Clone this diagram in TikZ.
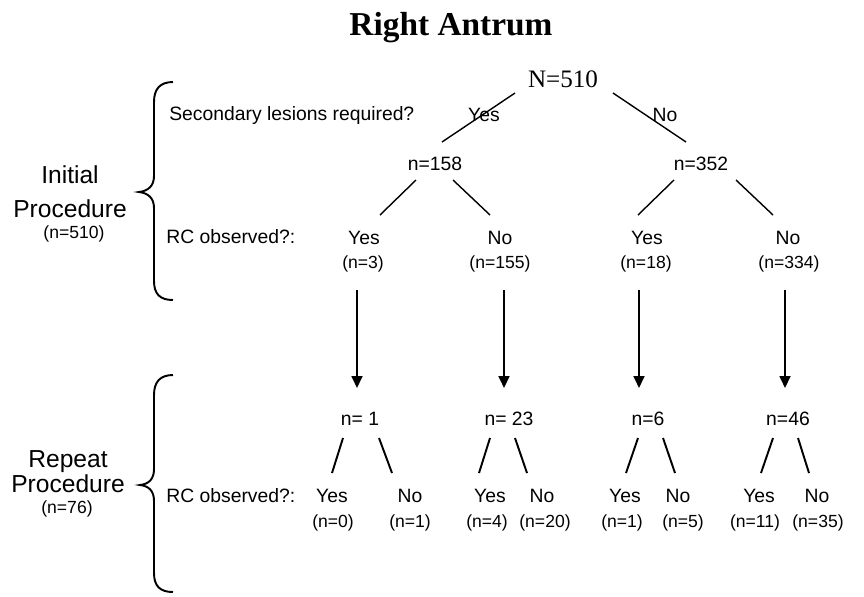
\documentclass[tikz,border=0pt]{standalone}
\usepackage{fontspec}
\setmainfont{Liberation Sans}
\newfontfamily\timesfont{Liberation Serif}
\usepackage{tikz}
\usetikzlibrary{arrows.meta, calc, positioning}

\tikzset{
	lbl/.style={anchor=base, inner sep=0pt, font=\fontsize{11}{13}\selectfont},
	cnt/.style={anchor=base, inner sep=0pt, font=\fontsize{10}{12}\selectfont},
	side/.style={anchor=base, inner sep=0pt, font=\fontsize{14}{16}\selectfont},
	branch/.style={line width=0.8pt},
	twig/.style={line width=1.1pt},
	down/.style={line width=1.1pt, -{Triangle[length=6.8pt, width=6.2pt]}},
	bracket/.style={line width=1.1pt}
}

\begin{document}
\begin{tikzpicture}[x=0.02cm, y=-0.02cm]
						\useasboundingbox (0,0) rectangle (864,596);

						\node[anchor=base, inner sep=0pt, font=\timesfont\bfseries\fontsize{19}{22}\selectfont] (title) at (451,35) {Right Antrum};
						\node[anchor=base, inner sep=0pt, font=\timesfont\fontsize{14.3}{16}\selectfont] (N0) at (563,87) {N=510};

						\node[lbl, anchor=base west] (q1) at (169,120) {Secondary lesions required?};
						\node[lbl] (yes0) at (484,121) {Yes};
						\node[lbl] (no0) at (665,121) {No};
						\node[lbl] (n158) at (435,170) {n=158};
						\node[lbl] (n352) at (701,170) {n=352};

						\node[lbl, anchor=base west] (q2) at (166,243) {RC observed?:};
						\node[lbl] (yes3) at (364,244) {Yes};
						\node[cnt] (c3) at (363,268) {(n=3)};
						\node[lbl] (no155) at (500,244) {No};
						\node[cnt] (c155) at (500,268) {(n=155)};
						\node[lbl] (yes18) at (647,244) {Yes};
						\node[cnt] (c18) at (646,268) {(n=18)};
						\node[lbl] (no334) at (788,244) {No};
						\node[cnt] (c334) at (789,268) {(n=334)};

						\draw[branch] ([shift={(-48,6)}]N0.base) -- ([shift={(7,-28)}]n158.base);
						\draw[branch] ([shift={(50,6)}]N0.base) -- ([shift={(-15,-28)}]n352.base);
						\draw[branch] ([shift={(-19,10)}]n158.base) -- ([shift={(16,-29)}]yes3.base);
						\draw[branch] ([shift={(18,10)}]n158.base) -- ([shift={(-10,-29)}]no155.base);
						\draw[branch] ([shift={(-27,10)}]n352.base) -- ([shift={(-9,-29)}]yes18.base);
						\draw[branch] ([shift={(35,10)}]n352.base) -- ([shift={(-15,-29)}]no334.base);

						\node[lbl] (m1) at (360,425) {n= 1};
						\node[lbl] (m23) at (509,425) {n= 23};
						\node[lbl] (m6) at (648,425) {n=6};
						\node[lbl] (m46) at (788,425) {n=46};

						\draw[down] ([shift={(-6,22)}]c3.base) -- ([shift={(-3,-37)}]m1.base);
						\draw[down] ([shift={(4,22)}]c155.base) -- ([shift={(-5,-37)}]m23.base);
						\draw[down] ([shift={(-7,22)}]c18.base) -- ([shift={(-9,-37)}]m6.base);
						\draw[down] ([shift={(-4,22)}]c334.base) -- ([shift={(-3,-37)}]m46.base);

						\node[lbl, anchor=base west] (q3) at (166,502) {RC observed?:};
						\node[lbl] (yes0b) at (332,502) {Yes};
						\node[cnt] (c0b) at (333,527) {(n=0)};
						\node[lbl] (no1b) at (410,502) {No};
						\node[cnt] (c1b) at (410,527) {(n=1)};
						\node[lbl] (yes4b) at (490,502) {Yes};
						\node[cnt] (c4b) at (487,527) {(n=4)};
						\node[lbl] (no20b) at (542,502) {No};
						\node[cnt] (c20b) at (545,527) {(n=20)};
						\node[lbl] (yes1b) at (625,502) {Yes};
						\node[cnt] (c1bb) at (622,527) {(n=1)};
						\node[lbl] (no5b) at (678,502) {No};
						\node[cnt] (c5b) at (683,527) {(n=5)};
						\node[lbl] (yes11b) at (759,502) {Yes};
						\node[cnt] (c11b) at (755,527) {(n=11)};
						\node[lbl] (no35b) at (817,502) {No};
						\node[cnt] (c35b) at (818,527) {(n=35)};

						\draw[twig] ([shift={(-17,13)}]m1.base) -- ([shift={(0,-29)}]yes0b.base);
						\draw[twig] ([shift={(19,13)}]m1.base) -- ([shift={(-18,-29)}]no1b.base);
						\draw[twig] ([shift={(-19,13)}]m23.base) -- ([shift={(-11,-29)}]yes4b.base);
						\draw[twig] ([shift={(6,13)}]m23.base) -- ([shift={(-15,-29)}]no20b.base);
						\draw[twig] ([shift={(-10,13)}]m6.base) -- ([shift={(1,-29)}]yes1b.base);
						\draw[twig] ([shift={(15,13)}]m6.base) -- ([shift={(-3,-29)}]no5b.base);
						\draw[twig] ([shift={(-15,13)}]m46.base) -- ([shift={(2,-29)}]yes11b.base);
						\draw[twig] ([shift={(10,13)}]m46.base) -- ([shift={(-8,-29)}]no35b.base);

						\node[side] (init1) at (70,183) {Initial};
						\node[side] (init2) at (70,217) {Procedure};
						\node[cnt] (init3) at (74,238) {(n=510)};
						\node[side] (rep1) at (68,467) {Repeat};
						\node[side] (rep2) at (68,492) {Procedure};
						\node[cnt] (rep3) at (67,513) {(n=76)};

						\draw[bracket] (173,82) .. controls (160,82) and (154,89) .. (154,102) -- (154,176) .. controls (154,186) and (148,191) .. (139,192) .. controls (148,193) and (154,198) .. (154,208) -- (154,281) .. controls (154,294) and (160,300) .. (173,300);
						\draw[bracket] (173,375) .. controls (160,375) and (154,382) .. (154,395) -- (154,469) .. controls (154,479) and (149,484) .. (140,485) .. controls (149,486) and (154,491) .. (154,501) -- (154,573) .. controls (154,586) and (160,592) .. (173,592);
					\end{tikzpicture}
\end{document}
